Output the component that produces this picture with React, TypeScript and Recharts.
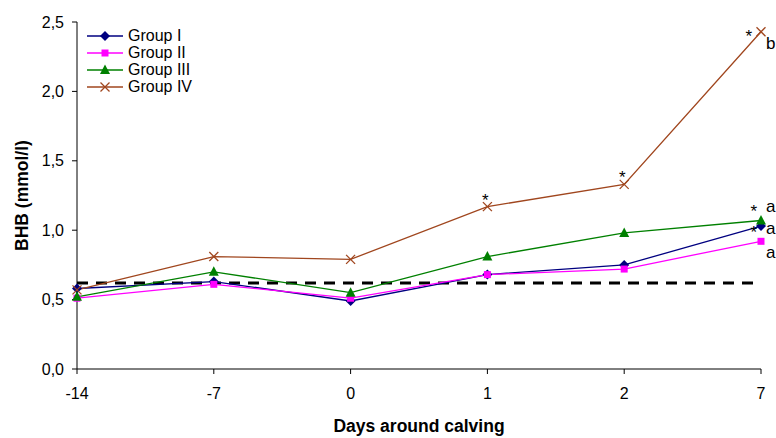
import { LineChart, Line, XAxis, YAxis, ReferenceLine, ReferenceDot, Label } from "recharts";

const days = ["-14", "-7", "0", "1", "2", "7"];
const groupI = [0.58, 0.63, 0.49, 0.68, 0.75, 1.03];
const groupII = [0.51, 0.61, 0.51, 0.68, 0.72, 0.92];
const groupIII = [0.52, 0.7, 0.55, 0.81, 0.98, 1.07];
const groupIV = [0.57, 0.81, 0.79, 1.17, 1.33, 2.43];
const yTicks = [0, 0.5, 1, 1.5, 2, 2.5];
const threshold = 0.62;

const seriesNames = ["Group I", "Group II", "Group III", "Group IV"];
const seriesKeys = ["g1", "g2", "g3", "g4"];
const seriesColors = ["#000080", "#ff00ff", "#008000", "#a0461e"];

// significance marks: series index, day, text
const marks = [
  { s: 3, day: "1", text: "*", at: "above" },
  { s: 3, day: "2", text: "*", at: "above" },
  { s: 3, day: "7", text: "*", at: "left" },
  { s: 3, day: "7", text: "b", at: "rightLow" },
  { s: 2, day: "7", text: "*", at: "upLeft" },
  { s: 2, day: "7", text: "a", at: "rightHigh" },
  { s: 0, day: "7", text: "a", at: "rightMid" },
  { s: 1, day: "7", text: "*", at: "upLeft" },
  { s: 1, day: "7", text: "a", at: "rightLow" },
];

const allSeries = [groupI, groupII, groupIII, groupIV];
const data = days.map((d, i) => ({
  day: d,
  g1: groupI[i],
  g2: groupII[i],
  g3: groupIII[i],
  g4: groupIV[i],
}));

const font = "'Liberation Sans', Arial, sans-serif";

function Marker({ kind, cx, cy, color }: { kind: number; cx: number; cy: number; color: string }) {
  if (kind === 0)
    return <polygon points={`${cx},${cy - 5} ${cx + 5},${cy} ${cx},${cy + 5} ${cx - 5},${cy}`} fill={color} />;
  if (kind === 1) return <rect x={cx - 3.5} y={cy - 3.5} width={7} height={7} fill={color} />;
  if (kind === 2)
    return <polygon points={`${cx},${cy - 5.5} ${cx + 5},${cy + 4} ${cx - 5},${cy + 4}`} fill={color} />;
  return (
    <g stroke={color} strokeWidth={1.3}>
      <line x1={cx - 4.5} y1={cy - 4.5} x2={cx + 4.5} y2={cy + 4.5} />
      <line x1={cx - 4.5} y1={cy + 4.5} x2={cx + 4.5} y2={cy - 4.5} />
    </g>
  );
}

// dx, dy (baseline), anchor
const markOffset: Record<string, [number, number, string]> = {
  above: [-2, -1, "middle"],
  left: [-9, 10, "end"],
  upLeft: [-4, -3, "end"],
  rightHigh: [5, -8, "start"],
  rightMid: [5, 8, "start"],
  rightLow: [5, 17, "start"],
};

export default function App() {
  return (
    <div style={{ position: "fixed", left: 0, top: 0, width: 776, height: 438, background: "#fff", fontFamily: font }}>
      <LineChart width={776} height={438} data={data} margin={{ top: 22, right: 15, bottom: 0, left: 0 }}>
        <XAxis
          dataKey="day"
          axisLine={{ stroke: "#000" }}
          tickLine={{ stroke: "#000" }}
          tickSize={5}
          tickMargin={14}
          height={69}
          tick={{ fill: "#000", fontSize: 16, fontFamily: font }}
        >
          <Label
            value="Days around calving"
            position="insideBottom"
            offset={6}
            style={{ fontWeight: "bold", fontSize: 17.5, fill: "#000", fontFamily: font }}
          />
        </XAxis>
        <YAxis
          domain={[0, 2.5]}
          ticks={yTicks}
          width={77}
          axisLine={{ stroke: "#000" }}
          tickLine={{ stroke: "#000" }}
          tickSize={5}
          tickMargin={8}
          tickFormatter={(v: number) => v.toFixed(1).replace(".", ",")}
          tick={{ fill: "#000", fontSize: 16, fontFamily: font }}
        >
          <Label
            value="BHB (mmol/l)"
            angle={-90}
            position="insideLeft"
            offset={22}
            style={{ fontWeight: "bold", fontSize: 17.5, fill: "#000", fontFamily: font, textAnchor: "middle" }}
          />
        </YAxis>
        <ReferenceLine y={threshold} stroke="#000" strokeWidth={3} strokeDasharray="11 8" />
        {seriesKeys.map((k, i) => (
          <Line
            key={k}
            dataKey={k}
            name={seriesNames[i]}
            stroke={seriesColors[i]}
            strokeWidth={1.3}
            isAnimationActive={false}
            dot={(p: any) => <Marker key={`${k}-${p.index}`} kind={i} cx={p.cx} cy={p.cy} color={seriesColors[i]} />}
            activeDot={false}
          />
        ))}
        {marks.map((m, j) => {
          const v = allSeries[m.s][days.indexOf(m.day)];
          const [dx, dy, anchor] = markOffset[m.at];
          const isStar = m.text === "*";
          return (
            <ReferenceDot
              key={j}
              x={m.day}
              y={v}
              r={0}
              fill="none"
              stroke="none"
              label={(lp: any) => {
                const vb = lp.viewBox || {};
                const cx = (vb.x ?? 0) + (vb.width ?? 0) / 2;
                const cy = (vb.y ?? 0) + (vb.height ?? 0) / 2;
                return (
                  <text
                    x={cx + dx}
                    y={cy + dy}
                    textAnchor={anchor}
                    fontSize={17}
                    fontFamily={font}
                    fill="#000"
                  >
                    {m.text}
                  </text>
                );
              }}
            />
          );
        })}
      </LineChart>
      <div style={{ position: "absolute", left: 87, top: 27, fontSize: 16, lineHeight: "17px", color: "#000" }}>
        {seriesNames.map((n, i) => (
          <div key={n} style={{ display: "flex", alignItems: "center", height: 17 }}>
            <svg width={38} height={14} style={{ marginRight: 3 }}>
              <line x1={0} y1={7} x2={36} y2={7} stroke={seriesColors[i]} strokeWidth={1.3} />
              <Marker kind={i} cx={18} cy={7} color={seriesColors[i]} />
            </svg>
            <span>{n}</span>
          </div>
        ))}
      </div>
    </div>
  );
}
